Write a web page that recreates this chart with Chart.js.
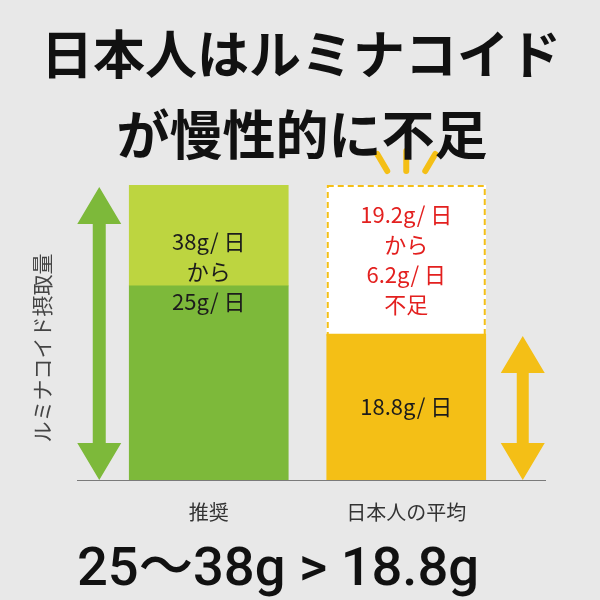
<!DOCTYPE html>
<html lang="ja">
<head>
<meta charset="utf-8">
<script src="https://cdn.jsdelivr.net/npm/chart.js@4.4.0/dist/chart.umd.min.js"></script>
<style>
  html, body { margin: 0; padding: 0; background: #e8e8e8; }
  #wrap { width: 600px; height: 600px; }
</style>
</head>
<body>
<div id="wrap"><canvas id="myChart"></canvas></div>
<script>
// data
const categories = ['推奨', '日本人の平均'];
const lowerValues = [25, 18.8];   // 推奨の下限 / 平均摂取量
const upperValues = [13, 19.2];   // 38 - 25 / 38 - 18.8 (不足分)
const yMax = 38;

const titleLines = ['日本人はルミナコイド', 'が慢性的に不足'];
const yLabel = 'ルミナコイド摂取量';
const greenTexts = ['38g/ 日', 'から', '25g/ 日'];
const gapTexts = ['19.2g/ 日', 'から', '6.2g/ 日', '不足'];
const avgText = '18.8g/ 日';
const summaryText = '25〜38g > 18.8g';

const GREEN_DARK = '#7db93a';
const GREEN_LIGHT = '#bdd540';
const YELLOW = '#f4bf16';
const BG = '#e8e8e8';
const JP = '"Noto Sans CJK JP", "Noto Sans", sans-serif';

function drawArrow(ctx, x, top, bottom, color, headW, headH, shaftW) {
    ctx.save();
    ctx.fillStyle = color;
    ctx.beginPath();
    ctx.moveTo(x, top);
    ctx.lineTo(x + headW / 2, top + headH);
    ctx.lineTo(x + shaftW / 2, top + headH);
    ctx.lineTo(x + shaftW / 2, bottom - headH);
    ctx.lineTo(x + headW / 2, bottom - headH);
    ctx.lineTo(x, bottom);
    ctx.lineTo(x - headW / 2, bottom - headH);
    ctx.lineTo(x - shaftW / 2, bottom - headH);
    ctx.lineTo(x - shaftW / 2, top + headH);
    ctx.lineTo(x - headW / 2, top + headH);
    ctx.closePath();
    ctx.fill();
    ctx.restore();
}

function drawLines(ctx, lines, x, centerY, lineH, color) {
    ctx.fillStyle = color;
    const startY = centerY - (lines.length - 1) * lineH / 2;
    lines.forEach((t, i) => ctx.fillText(t, x, startY + i * lineH));
}

const decor = {
    id: 'decor',
    beforeDraw(chart) {
        const ctx = chart.ctx;
        ctx.save();
        ctx.fillStyle = BG;
        ctx.fillRect(0, 0, chart.width, chart.height);
        ctx.restore();
    },
    afterDatasetsDraw(chart) {
        const ctx = chart.ctx;
        const y = chart.scales.y;
        const base = y.getPixelForValue(0);
        const green = chart.getDatasetMeta(0).data[0];
        const yellow = chart.getDatasetMeta(0).data[1];
        const gap = chart.getDatasetMeta(1).data[1];
        const top = chart.getDatasetMeta(1).data[0];

        // dashed outline for shortfall
        ctx.save();
        ctx.strokeStyle = YELLOW;
        ctx.lineWidth = 2;
        ctx.setLineDash([6, 4]);
        ctx.strokeRect(gap.x - gap.width / 2 + 1, gap.y + 1, gap.width - 2, gap.base - gap.y);
        ctx.restore();

        // baseline
        ctx.save();
        ctx.strokeStyle = '#7a7a7a';
        ctx.lineWidth = 1.2;
        ctx.beginPath();
        ctx.moveTo(77, base + 0.5);
        ctx.lineTo(546, base + 0.5);
        ctx.stroke();
        ctx.restore();

        // arrows
        drawArrow(ctx, green.x - green.width / 2 - 30, top.y + 2, base, GREEN_DARK, 44, 37, 13);
        drawArrow(ctx, yellow.x + yellow.width / 2 + 37, yellow.y + 2, base, YELLOW, 44, 37, 12);

        // sparkle strokes
        ctx.save();
        ctx.strokeStyle = YELLOW;
        ctx.lineWidth = 6;
        ctx.lineCap = 'round';
        const sx = gap.x, sy = gap.y;
        [[-29, -31, -19, -14], [0, -34, 0, -14], [29, -31, 19, -14]].forEach(s => {
            ctx.beginPath();
            ctx.moveTo(sx + s[0], sy + s[1]);
            ctx.lineTo(sx + s[2], sy + s[3]);
            ctx.stroke();
        });
        ctx.restore();

        // texts in bars
        ctx.save();
        ctx.textAlign = 'center';
        ctx.textBaseline = 'middle';
        ctx.font = '22px ' + JP;
        drawLines(ctx, greenTexts, green.x, green.y - 14, 30, '#1c1c1c');
        drawLines(ctx, gapTexts, gap.x, (gap.y + gap.base) / 2, 30, '#e3201f');
        drawLines(ctx, [avgText], yellow.x, (yellow.y + yellow.base) / 2, 30, '#1c1c1c');
        ctx.restore();
    },
    afterDraw(chart) {
        const ctx = chart.ctx;
        ctx.save();
        ctx.textAlign = 'center';
        ctx.textBaseline = 'middle';
        ctx.fillStyle = '#111';
        ctx.font = 'bold 52px ' + JP;
        ctx.fillText(titleLines[0], 301, 54);
        ctx.font = 'bold 53px ' + JP;
        ctx.fillText(titleLines[1], 302, 135);

        // y label
        ctx.save();
        ctx.translate(42, 348);
        ctx.rotate(-Math.PI / 2);
        ctx.font = '21px ' + JP;
        ctx.fillStyle = '#444';
        ctx.fillText(yLabel, 0, 0);
        ctx.restore();

        // summary
        ctx.font = '500 58px Roboto, ' + JP;
        const w = ctx.measureText(summaryText).width;
        const size = 58 * 402 / w;
        ctx.font = '500 ' + size.toFixed(1) + 'px Roboto, ' + JP;
        ctx.textBaseline = 'alphabetic';
        ctx.fillStyle = '#111';
        ctx.fillText(summaryText, 278, 585);
        ctx.restore();
    }
};

new Chart('myChart', {
    type: 'bar',
    data: {
        labels: categories,
        datasets: [{
            data: lowerValues,
            backgroundColor: [GREEN_DARK, YELLOW],
            barThickness: 159
        }, {
            data: upperValues,
            backgroundColor: [GREEN_LIGHT, '#ffffff'],
            barThickness: 159
        }]
    },
    options: {
        responsive: true,
        maintainAspectRatio: false,
        animation: false,
        layout: { padding: { left: 110, right: 95, top: 185, bottom: 64 } },
        plugins: {
            legend: { display: false },
            tooltip: { enabled: false }
        },
        scales: {
            x: {
                stacked: true,
                grid: { display: false },
                border: { display: false },
                ticks: {
                    color: '#333',
                    font: { size: 20, family: JP },
                    padding: 12
                }
            },
            y: {
                stacked: true,
                display: false,
                min: 0,
                max: yMax
            }
        }
    },
    plugins: [decor]
});
</script>
</body>
</html>
